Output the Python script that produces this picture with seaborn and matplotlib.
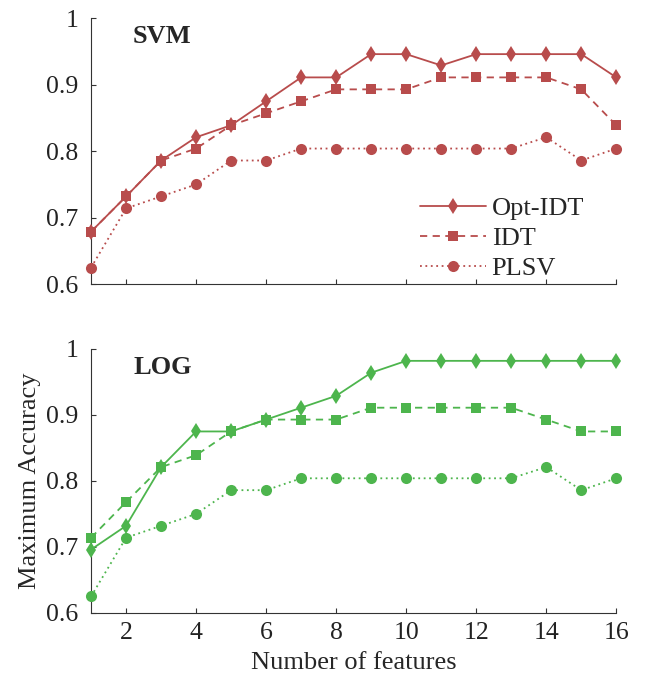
import matplotlib
matplotlib.use("Agg")
import matplotlib.pyplot as plt
import seaborn as sns
import pandas as pd

features = list(range(1, 17))
svm_opt_idt = [0.679, 0.732, 0.786, 0.821, 0.839, 0.875, 0.911, 0.911, 0.946, 0.946, 0.929, 0.946, 0.946, 0.946, 0.946, 0.911]
svm_idt = [0.679, 0.732, 0.786, 0.804, 0.839, 0.857, 0.875, 0.893, 0.893, 0.893, 0.911, 0.911, 0.911, 0.911, 0.893, 0.839]
svm_plsv = [0.625, 0.714, 0.732, 0.750, 0.786, 0.786, 0.804, 0.804, 0.804, 0.804, 0.804, 0.804, 0.804, 0.821, 0.786, 0.804]
log_opt_idt = [0.696, 0.732, 0.821, 0.875, 0.875, 0.893, 0.911, 0.929, 0.964, 0.982, 0.982, 0.982, 0.982, 0.982, 0.982, 0.982]
log_idt = [0.714, 0.768, 0.821, 0.839, 0.875, 0.893, 0.893, 0.893, 0.911, 0.911, 0.911, 0.911, 0.911, 0.893, 0.875, 0.875]
log_plsv = [0.625, 0.714, 0.732, 0.750, 0.786, 0.786, 0.804, 0.804, 0.804, 0.804, 0.804, 0.804, 0.804, 0.821, 0.786, 0.804]
series_names = ["Opt-IDT", "IDT", "PLSV"]
y_ticks = [0.6, 0.7, 0.8, 0.9, 1.0]
y_tick_labels = ["0.6", "0.7", "0.8", "0.9", "1"]
x_ticks = [2, 4, 6, 8, 10, 12, 14, 16]

sns.set_theme(style="ticks")
plt.rcParams['font.family'] = ['Liberation Serif', 'DejaVu Serif']
plt.rcParams['xtick.direction'] = 'in'
plt.rcParams['ytick.direction'] = 'in'

red = "#B84C4C"
green = "#4DB54D"
styles = [("-", "d", 8), ("--", "s", 7), (":", "o", 8)]

fig = plt.figure(figsize=(6.46, 6.75), dpi=100)
ax1 = fig.add_axes([0.141, 0.579, 0.813, 0.394])
ax2 = fig.add_axes([0.141, 0.092, 0.813, 0.391])

def draw(ax, data, color, title, legend):
    for name, vals, (ls, mk, ms) in zip(series_names, data, styles):
        df = pd.DataFrame({"x": features, "y": vals})
        sns.lineplot(data=df, x="x", y="y", ax=ax, color=color, marker=mk,
                     markersize=ms, linewidth=1.3, markeredgewidth=0,
                     label=name if legend else None, clip_on=False, zorder=3)
        line = ax.lines[-1]
        line.set_linestyle(ls)
        if ls == "--":
            line.set_dashes((4, 3))
        elif ls == ":":
            line.set_dashes((1, 2))
    ax.set_xlim(1, 16)
    ax.set_ylim(0.6, 1.0)
    ax.set_yticks(y_ticks)
    ax.set_yticklabels(y_tick_labels)
    ax.set_xticks(x_ticks)
    ax.tick_params(labelsize=18.5, length=3.5, width=0.8, colors="#333333", labelcolor="#222222")
    ax.tick_params(axis="y", pad=9)
    ax.tick_params(axis="x", pad=6.5)
    for s in ["top", "right"]:
        ax.spines[s].set_visible(False)
    for s in ["left", "bottom"]:
        ax.spines[s].set_color("#333333")
        ax.spines[s].set_linewidth(0.8)
    ax.text(0.08, 0.93, title, transform=ax.transAxes, fontsize=19, fontweight="bold",
            va="center", ha="left")
    ax.set_xlabel("")
    ax.set_ylabel("")

draw(ax1, [svm_opt_idt, svm_idt, svm_plsv], red, "SVM", True)
draw(ax2, [log_opt_idt, log_idt, log_plsv], green, "LOG", False)
ax1.tick_params(labelbottom=False)
leg = ax1.legend(loc="lower right", frameon=False, fontsize=19, handlelength=2.5,
                 borderaxespad=0.1, labelspacing=0.25, handletextpad=0.2,
                 bbox_to_anchor=(0.964, -0.035))
ax2.set_xlabel("Number of features", fontsize=19, labelpad=6)
ax2.set_ylabel("Maximum Accuracy", fontsize=19)
ax2.yaxis.set_label_coords(-0.095, 0.5)
fig.savefig("out.png", dpi=100)
